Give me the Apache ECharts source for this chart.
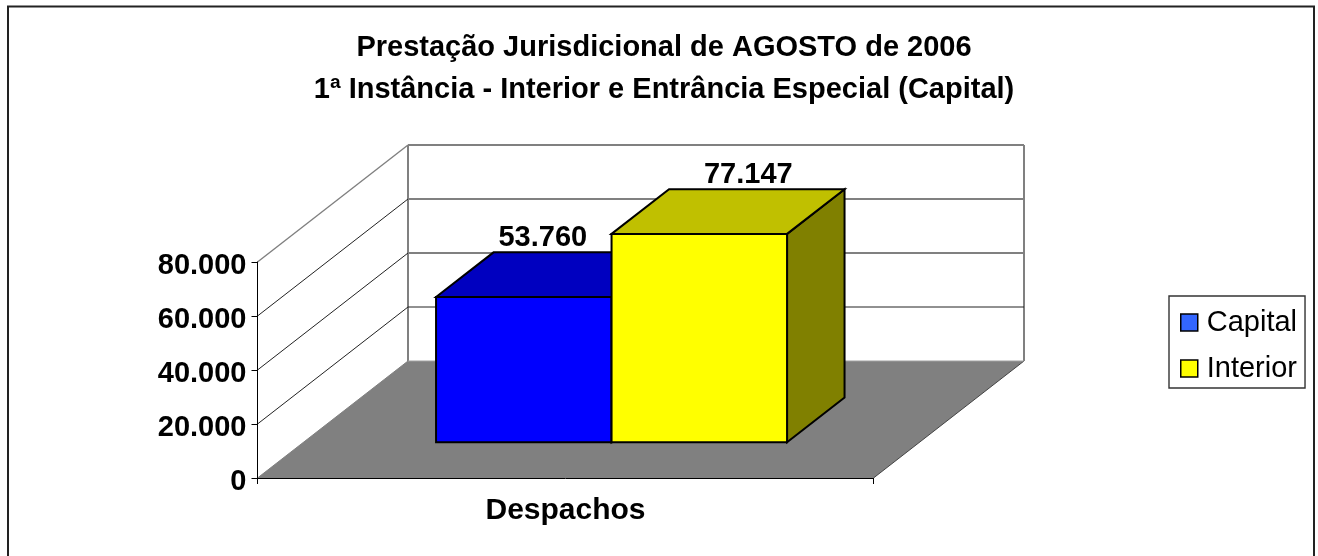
<!DOCTYPE html>
<html>
<head>
<meta charset="utf-8">
<script src="https://cdn.jsdelivr.net/npm/echarts@6/dist/echarts.min.js"></script>
<style>
  html, body { margin: 0; padding: 0; background: #fff; }
</style>
</head>
<body>
<div id="main" style="width:1318px;height:556px;"></div>
<script>
var categories = ['Despachos'];
var seriesNames = ['Capital', 'Interior'];
var capitalValues = [53760];
var interiorValues = [77147];
var yTicks = [0, 20000, 40000, 60000, 80000];
var titleLines = ['Prestação Jurisdicional de AGOSTO de 2006', '1ª Instância - Interior e Entrância Especial (Capital)'];

// 3d look: everything is the front plane of the grid pushed back by these pixels
var wallDx = 150.5, wallDy = -117;
var barNear = 0.306, barFar = 0.688;
var barWidth = 175.5;
var fontName = '"Liberation Sans", Arial, sans-serif';

// dots in the numbers, 53.760
function fmt(v) {
    return String(v).replace(/\B(?=(\d{3})+$)/g, '.');
}

function poly(points, fill, stroke, width) {
    return {
        type: 'polygon',
        shape: { points: points },
        style: { fill: fill, stroke: stroke, lineWidth: width, lineJoin: 'miter' }
    };
}

function line(a, b, color, width) {
    return {
        type: 'line',
        shape: { x1: a[0], y1: a[1], x2: b[0], y2: b[1] },
        style: { stroke: color, lineWidth: width }
    };
}

// one gridline per tick, left wall and back wall. Floor and back are drawn with the first tick
function renderWall(params, api) {
    var v = api.value(1);
    var band = api.size([1, 0])[0];
    var p = api.coord([0, v]);
    var x0 = p[0] - band / 2, x1 = p[0] + band / 2;
    var y = p[1];
    var top = api.coord([0, yTicks[yTicks.length - 1]])[1];
    var back = [x0 + wallDx, y + wallDy];
    var backEnd = [x1 + wallDx, y + wallDy];
    var children = [];
    if (v === 0) {
        children.push(poly([[x0, y], [x1, y], backEnd, back], '#808080', null, 0));
        children.push(line(back, [back[0], top + wallDy], '#808080', 2));
        children.push(line(backEnd, [backEnd[0], top + wallDy], '#808080', 2));
        children.push(line([x1, y], backEnd, '#444', 1));
        children.push(line([x0, y], back, '#808080', 1));
        children.push(line(back, backEnd, '#a0a0a0', 1));
    } else {
        var dark = params.dataIndex === 1;
        var edge = params.dataIndex === yTicks.length - 1;
        children.push(line([x0, y], back, edge ? '#808080' : '#222', edge ? 1.4 : 1));
        children.push(line(back, backEnd, dark ? '#222' : '#808080', dark ? 1 : 2));
    }
    return { type: 'group', children: children };
}

function renderBox(fills, labelDx) {
    return function (params, api) {
        var idx = api.value(0);
        var val = api.value(1);
        var c = api.coord([idx, val]);
        var base = api.coord([idx, 0]);
        var left = c[0] + (params.seriesIndex - 2) * barWidth + wallDx * barNear;
        var right = left + barWidth;
        var top = c[1] + wallDy * barNear;
        var bottom = base[1] + wallDy * barNear;
        var dx = wallDx * (barFar - barNear);
        var dy = wallDy * (barFar - barNear);
        return {
            type: 'group',
            children: [
                poly([[right, top], [right + dx, top + dy], [right + dx, bottom + dy], [right, bottom]], fills.side, '#000', 2),
                poly([[left, top], [left + dx, top + dy], [right + dx, top + dy], [right, top]], fills.top, '#000', 2),
                poly([[left, top], [right, top], [right, bottom], [left, bottom]], fills.front, '#000', 2),
                {
                    type: 'text',
                    style: {
                        x: (left + right) / 2 + labelDx,
                        y: top + dy,
                        text: fmt(val),
                        align: 'center',
                        verticalAlign: 'bottom',
                        fill: '#000',
                        font: 'bold 29px ' + fontName
                    }
                }
            ]
        };
    };
}

var myChart = echarts.init(document.getElementById('main'), null, { renderer: 'canvas' });

var option = {
    animation: false,
    backgroundColor: '#fff',
    title: {
        text: titleLines.join('\n'),
        left: 659,
        top: 22,
        textAlign: 'center',
        textStyle: { fontFamily: fontName, fontWeight: 'bold', fontSize: 29, lineHeight: 42, color: '#000' }
    },
    legend: {
        orient: 'vertical',
        left: 1169,
        top: 296,
        padding: [12, 8, 5, 11],
        itemGap: 17,
        itemWidth: 17,
        itemHeight: 17,
        borderColor: '#333',
        borderWidth: 1.4,
        textStyle: { fontFamily: fontName, fontSize: 29, color: '#000', padding: [0, 0, 0, 4] },
        data: [
            { name: seriesNames[0], icon: 'rect', itemStyle: { color: '#3366ff', borderColor: '#000', borderWidth: 1.5 } },
            { name: seriesNames[1], icon: 'rect', itemStyle: { color: '#ffff00', borderColor: '#000', borderWidth: 1.5 } }
        ]
    },
    grid: { left: 257.5, top: 262, width: 616, height: 216, containLabel: false },
    xAxis: {
        type: 'category',
        data: categories,
        z: 10,
        axisLine: { lineStyle: { color: '#000', width: 1 } },
        axisTick: { show: true, length: 6, lineStyle: { color: '#000' } },
        axisLabel: { margin: 18, color: '#000', fontFamily: fontName, fontWeight: 'bold', fontSize: 30 }
    },
    yAxis: {
        type: 'value',
        min: 0,
        max: 80000,
        interval: 20000,
        z: 10,
        splitLine: { show: false },
        axisLine: { show: true, lineStyle: { color: '#000', width: 1 } },
        axisTick: { show: true, length: 6, lineStyle: { color: '#000' } },
        axisLabel: {
            margin: 11,
            formatter: function (v) { return '{v|' + fmt(v) + '}'; },
            rich: {
                v: { lineHeight: 36, verticalAlign: 'bottom', color: '#000', fontFamily: fontName, fontWeight: 'bold', fontSize: 29 }
            }
        }
    },
    graphic: [{
        type: 'rect',
        silent: true,
        z: 100,
        shape: { x: 8, y: 6.5, width: 1306, height: 560 },
        style: { fill: 'transparent', stroke: '#222', lineWidth: 2 }
    }],
    series: [
        {
            name: 'paredes',
            type: 'custom',
            z: 1,
            silent: true,
            renderItem: renderWall,
            data: yTicks.map(function (t) { return [0, t]; })
        },
        {
            name: seriesNames[0],
            type: 'custom',
            z: 3,
            renderItem: renderBox({ front: '#0000ff', top: '#0000c0', side: '#000080' }, 19),
            itemStyle: { color: '#3366ff' },
            data: capitalValues.map(function (v, i) { return [i, v]; })
        },
        {
            name: seriesNames[1],
            type: 'custom',
            z: 4,
            renderItem: renderBox({ front: '#ffff00', top: '#c0c000', side: '#808000' }, 49),
            itemStyle: { color: '#ffff00' },
            data: interiorValues.map(function (v, i) { return [i, v]; })
        }
    ]
};
myChart.setOption(option);
</script>
</body>
</html>
